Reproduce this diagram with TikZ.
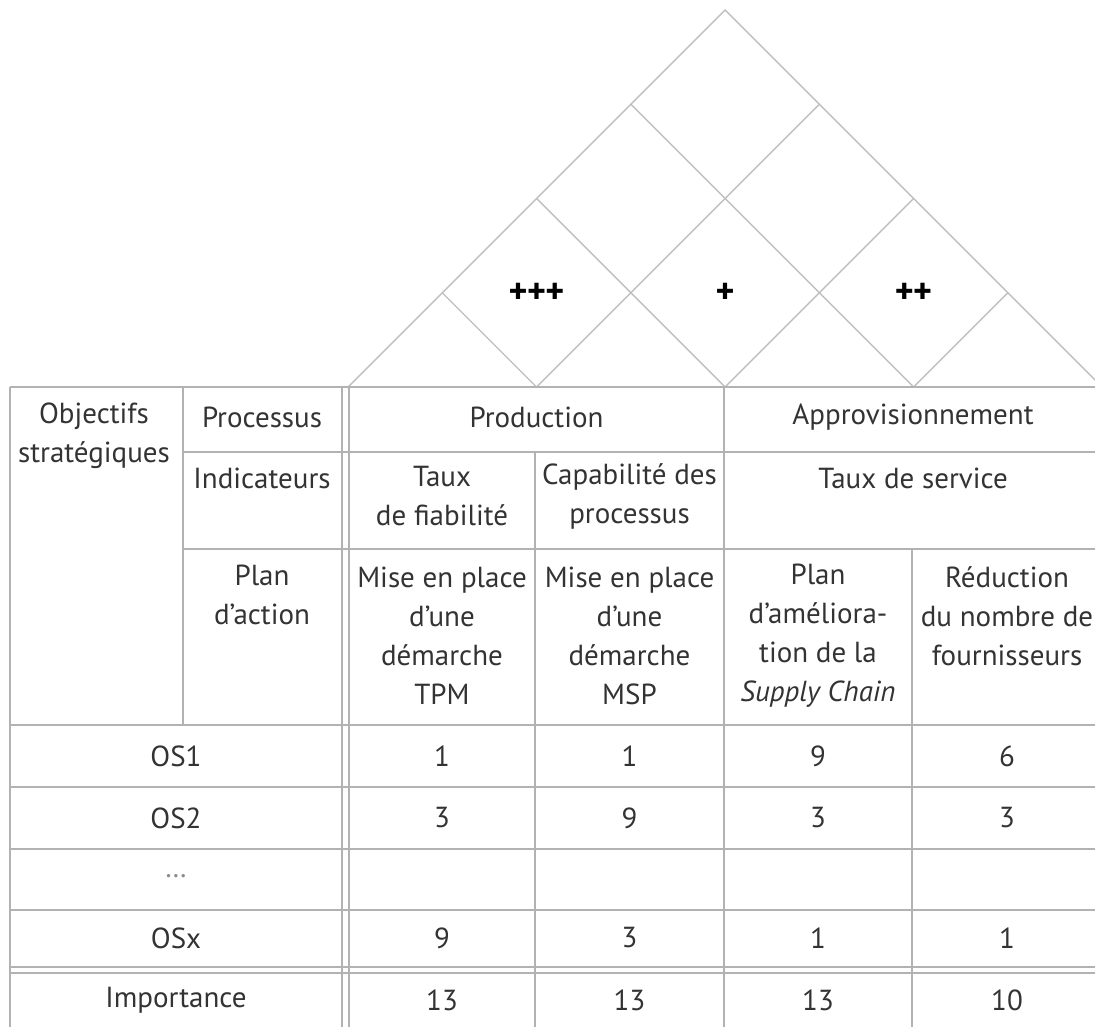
\documentclass[tikz,border=0pt]{standalone}
\usepackage{fontspec}
\setmainfont{PT Sans}
\begin{document}
\begin{tikzpicture}[x=0.5pt,y=-0.5pt,
  rule/.style={draw=black!30, line width=0.75pt},
  roof/.style={draw=black!25, line width=0.7pt},
  cell/.style={inner sep=0pt, align=center, text=black!80,
               font=\fontsize{14.5}{19.5}\selectfont},
  plusmark/.style={inner sep=0pt, text=black,
               font=\fontsize{18}{21}\selectfont\bfseries}]
\useasboundingbox (0,0) rectangle (1095,1027);
\clip (0,0) rectangle (1095,1027);

% ---- roof: correlation triangle split into diamonds
\draw[roof] (348,387) -- (725,10) -- (1102,387);
\draw[roof] (536.5,387) -- (819.25,104.25);
\draw[roof] (725,387)   -- (913.5,198.5);
\draw[roof] (913.5,387) -- (1007.75,292.75);
\draw[roof] (536.5,387) -- (442.25,292.75);
\draw[roof] (725,387)   -- (536.5,198.5);
\draw[roof] (913.5,387) -- (630.75,104.25);

\node[plusmark] (c12) at (536.5,293) {+\kern-0.3pt+\kern-0.3pt+};
\node[plusmark] (c23) at (725,293)   {+};
\node[plusmark] (c34) at (913.5,293) {+\kern-0.3pt+};

% ---- table rules
\draw[rule] (10,387) -- (1102,387);
\draw[rule] (183,452) -- (1102,452);
\draw[rule] (183,549) -- (1102,549);
\draw[rule] (10,725) -- (1102,725);
\draw[rule] (10,787) -- (1102,787);
\draw[rule] (10,849) -- (1102,849);
\draw[rule] (10,910) -- (1102,910);
\draw[rule] (10,967) -- (1102,967);
\draw[rule] (10,973) -- (1102,973);

\draw[rule] (10,387)  -- (10,1027);
\draw[rule] (183,387) -- (183,725);
\draw[rule] (342,387) -- (342,1027);
\draw[rule] (349,387) -- (349,1027);
\draw[rule] (535,452) -- (535,1027);
\draw[rule] (724,387) -- (724,1027);
\draw[rule] (912,549) -- (912,1027);

% ---- header cells
\node[cell] (obj)  at (94,436)    {Objectifs\\stratégiques};
\node[cell] (proc) at (262,417)   {Processus};
\node[cell] (ind)  at (262,478)   {Indicateurs};
\node[cell] (plan) at (262,595)   {Plan\\d’action};

\node[cell] (prod) at (536.5,417) {Production};
\node[cell] (appr) at (913,417)   {Approvisionnement};

\node[cell] (ind1) at (442,496.5) {Taux\\de fiabilité};
\node[cell] (ind2) at (629.5,496.5) {Capabilité des\\processus};
\node[cell] (ind3) at (913,478)   {Taux de service};

\node[cell] (act1) at (442,635.5)   {Mise en place\\d’une\\démarche\\TPM};
\node[cell] (act2) at (629.5,635.5) {Mise en place\\d’une\\démarche\\MSP};
\node[cell] (act3) at (818,635.5)   {Plan\\d’améliora-\\tion de la\\\textit{Supply Chain}};
\node[cell] (act4) at (1007,616.5)  {Réduction\\du nombre de\\fournisseurs};

% ---- scores
\node[cell] (os1) at (176,756) {OS1};
\node[cell] (os2) at (176,818) {OS2};
\node[cell, text=black!45] (osd) at (176,876) {\ldots};
\node[cell] (osx) at (176,938) {OSx};
\node[cell] (imp) at (176,1000) {Importance};

\node[cell] (s11) at (442,756) {1};
\node[cell] (s12) at (629.5,756) {1};
\node[cell] (s13) at (818,756) {9};
\node[cell] (s14) at (1007,756) {6};

\node[cell] (s21) at (442,818) {3};
\node[cell] (s22) at (629.5,818) {9};
\node[cell] (s23) at (818,818) {3};
\node[cell] (s24) at (1007,818) {3};

\node[cell] (sx1) at (442,938) {9};
\node[cell] (sx2) at (629.5,938) {3};
\node[cell] (sx3) at (818,938) {1};
\node[cell] (sx4) at (1007,938) {1};

\node[cell] (i1) at (442,1000) {13};
\node[cell] (i2) at (629.5,1000) {13};
\node[cell] (i3) at (818,1000) {13};
\node[cell] (i4) at (1007,1000) {10};
\end{tikzpicture}
\end{document}
